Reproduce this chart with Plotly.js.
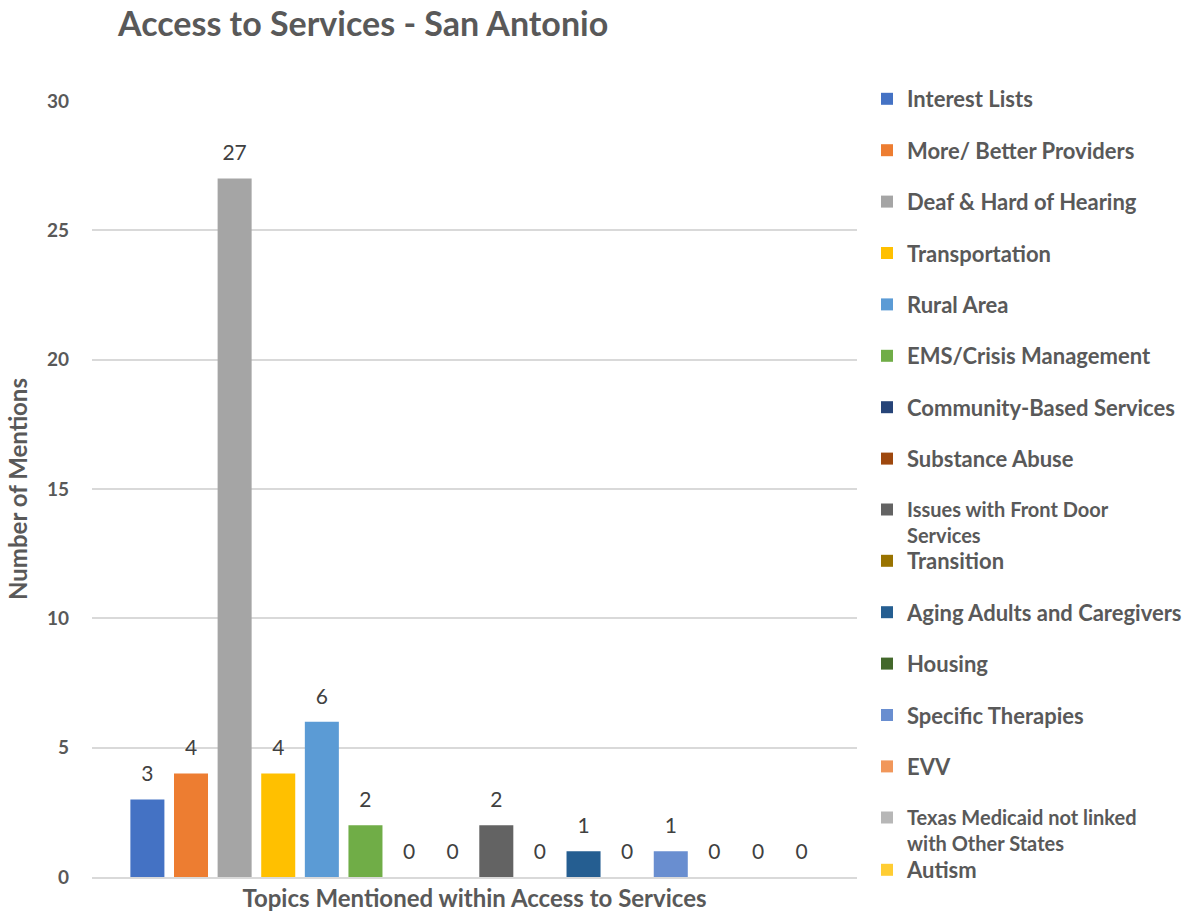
<!DOCTYPE html>
<html><head><meta charset="utf-8">
<script src="https://cdn.plot.ly/plotly-3.0.1.min.js"></script>
<style>html,body{margin:0;padding:0;background:#fff}#chart{width:1194px;height:913px}</style>
</head><body><div id="chart"></div>
<script>
const categories = [
  "Interest Lists", "More/ Better Providers", "Deaf & Hard of Hearing", "Transportation",
  "Rural Area", "EMS/Crisis Management", "Community-Based Services", "Substance Abuse",
  "Issues with Front Door Services", "Transition", "Aging Adults and Caregivers", "Housing",
  "Specific Therapies", "EVV", "Texas Medicaid not linked with Other States", "Autism"
];
const values = [3, 4, 27, 4, 6, 2, 0, 0, 2, 0, 1, 0, 1, 0, 0, 0];
const legendLabels = [
  "Interest Lists", "More/ Better Providers", "Deaf & Hard of Hearing", "Transportation",
  "Rural Area", "EMS/Crisis Management", "Community-Based Services", "Substance Abuse",
  "Issues with Front Door<br>Services", "Transition", "Aging Adults and Caregivers", "Housing",
  "Specific Therapies", "EVV", "Texas Medicaid not linked<br>with Other States", "Autism"
];
const colors = ["#4472C4", "#ED7D31", "#A5A5A5", "#FFC000", "#5B9BD5", "#70AD47", "#264478", "#9E480E",
  "#636363", "#997300", "#255E91", "#43682B", "#698ED0", "#F1975A", "#B7B7B7", "#FFCD33"];

const FONT = 'Lato, "Open Sans", sans-serif';
const TXT = '#595959';

function legendFor(i) {
  if (i < 8) return 'legend';
  if (i === 8) return 'legend2';
  if (i < 14) return 'legend3';
  if (i === 14) return 'legend4';
  return 'legend5';
}

const traces = categories.map((name, i) => ({
  type: 'bar', x: [name], y: [values[i]], name: legendLabels[i],
  marker: {color: colors[i]},
  legend: legendFor(i),
  legendgroup: 'g' + i,
  hovertemplate: '%{x}: %{y}<extra></extra>'
}));
traces.push({
  type: 'scatter', mode: 'markers+text', x: categories, y: values,
  text: values.map(String), textposition: 'top center',
  textfont: {size: 21, color: '#404040', family: FONT},
  marker: {size: values.map(() => 19), opacity: 0},
  showlegend: false, hoverinfo: 'skip', cliponaxis: false
});

const legendBase = {
  xref: 'container', x: 867 / 1194, xanchor: 'left', yanchor: 'top',
  font: {family: FONT, size: 22, weight: 'bold', color: TXT},
  valign: 'top', tracegroupgap: 19.8, bgcolor: 'rgba(0,0,0,0)', traceorder: 'grouped', maxheight: 900
};
const wrapFont = {family: FONT, size: 20, weight: 'bold', color: TXT};

const layout = {
  width: 1194, height: 913,
  margin: {l: 92, r: 337, t: 101, b: 36},
  paper_bgcolor: '#fff', plot_bgcolor: '#fff',
  barmode: 'overlay', bargap: 0.22,
  font: {family: FONT, color: TXT},
  title: {text: 'Access to Services - San Antonio', font: {family: FONT, size: 34, weight: 'bold', color: TXT},
    xref: 'container', x: 118 / 1194, xanchor: 'left', yref: 'container', y: 1 - 24 / 913, yanchor: 'middle'},
  xaxis: {type: 'category', range: [-1.27, 16.27], showticklabels: false, ticks: '', showgrid: false,
    showline: true, linecolor: '#d9d9d9', linewidth: 1.5, automargin: false, fixedrange: true,
    title: {text: 'Topics Mentioned within Access to Services', font: {size: 24, weight: 'bold', color: TXT}, standoff: 12}},
  yaxis: {range: [0, 30], dtick: 5, tick0: 0, showgrid: true, gridcolor: '#d9d9d9', gridwidth: 1.5, zeroline: false,
    ticks: '', tickfont: {size: 19, weight: 'bold', color: TXT}, ticklabelstandoff: 22, automargin: false, fixedrange: true,
    title: {text: 'Number of Mentions', font: {size: 24, weight: 'bold', color: TXT}, standoff: 12}},
  legend: Object.assign({}, legendBase, {y: (877 - 78) / 776}),
  legend2: Object.assign({}, legendBase, {y: (877 - 490) / 776, font: wrapFont}),
  legend3: Object.assign({}, legendBase, {y: (877 - 540) / 776}),
  legend4: Object.assign({}, legendBase, {y: (877 - 798) / 776, font: wrapFont}),
  legend5: Object.assign({}, legendBase, {y: (877 - 849) / 776})
};

Plotly.newPlot('chart', traces, layout, {displayModeBar: false});
</script>
</body></html>
